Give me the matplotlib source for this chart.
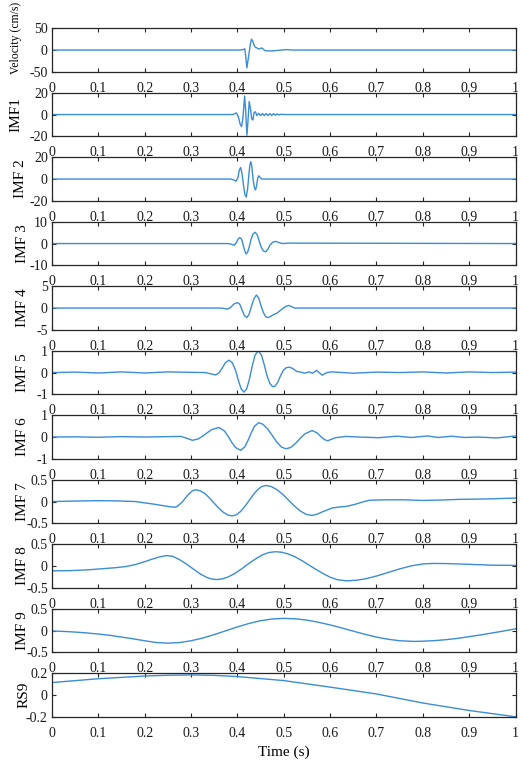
import matplotlib
matplotlib.use('Agg')
import matplotlib.pyplot as plt

plt.rcParams['font.family'] = ['Liberation Serif', 'DejaVu Serif']
plt.rcParams['axes.unicode_minus'] = False

# ---------------- data ----------------
t_vel = [0, 0.405, 0.412, 0.416, 0.4185, 0.4205, 0.4245, 0.428, 0.4305, 0.433, 0.436, 0.439,
         0.442, 0.445, 0.449, 0.452, 0.455, 0.459, 0.465, 0.475, 0.485, 0.495, 0.505, 0.52, 1.0]
vel = [0, 0, 1, 3, -20, -41, -12, 14, 25, 21, 11, 6, 5, 3, 3, 5, 3, -1, -2, -2, -1, 0, 1, 0, 0]

t_imf1 = [0, 0.39, 0.398, 0.402, 0.406, 0.409, 0.412, 0.4155, 0.4175, 0.4205, 0.4225, 0.4255,
          0.428, 0.431, 0.4335, 0.436, 0.439, 0.442, 0.446, 0.450, 0.454, 0.458, 0.462, 0.466,
          0.470, 0.474, 0.478, 0.482, 0.486, 0.490, 0.494, 0.50, 1.0]
imf1 = [0, 0, 1.5, -2, -9, -11, -3, 17, 6, -19, -8, 12, 6, -4, -5, 2, 2.5, -1, 1.2, -1, 1,
        -1, 1, -0.9, 0.9, -0.8, 0.8, -0.6, 0.6, -0.4, 0.3, 0, 0]

t_imf2 = [0, 0.385, 0.392, 0.397, 0.401, 0.404, 0.407, 0.410, 0.413, 0.416, 0.419, 0.422,
          0.425, 0.427, 0.429, 0.431, 0.434, 0.437, 0.439, 0.441, 0.444, 0.446, 0.449, 0.453, 1.0]
imf2 = [0, 0, -0.8, -2, 1, 8, 10.6, 5, -5, -14, -16.6, -9, 5, 13, 16, 12, -1, -8.5, -10, -7,
        1, 3, 1.5, 0, 0]

t_imf3 = [0, 0.380, 0.387, 0.393, 0.398, 0.402, 0.405, 0.409, 0.412, 0.416, 0.419, 0.422,
          0.425, 0.429, 0.433, 0.438, 0.443, 0.447, 0.451, 0.456, 0.461, 0.466, 0.470, 0.476,
          0.483, 0.490, 0.497, 0.51, 1.0]
imf3 = [0, 0, -0.3, -0.8, 0.5, 2.2, 2.8, 2.0, -0.3, -3.5, -4.8, -4.0, -2.0, 1.5, 4.2, 5.2,
        4.0, 1.2, -1.5, -3.4, -3.8, -2.5, -0.8, 0.6, 1.0, 0.4, 0, 0.2, 0]

t_imf4 = [0, 0.365, 0.372, 0.378, 0.385, 0.392, 0.400, 0.405, 0.410, 0.415, 0.420, 0.425,
          0.430, 0.436, 0.441, 0.446, 0.451, 0.456, 0.461, 0.466, 0.472, 0.478, 0.485, 0.492,
          0.499, 0.505, 0.511, 0.517, 0.524, 1.0]
imf4 = [0, 0, -0.1, -0.25, 0.1, 0.9, 1.25, 0.9, -0.4, -1.7, -2.2, -1.5, 0.3, 2.2, 3.0, 2.3,
        0.5, -1.0, -2.0, -2.2, -1.9, -1.5, -1.2, -0.6, 0.0, 0.4, 0.6, 0.3, 0, 0]

t_imf5 = [0, 0.05, 0.10, 0.15, 0.20, 0.25, 0.30, 0.33, 0.343, 0.353, 0.360, 0.367, 0.374,
          0.382, 0.389, 0.396, 0.402, 0.408, 0.414, 0.420, 0.426, 0.432, 0.438, 0.445, 0.452,
          0.458, 0.464, 0.470, 0.476, 0.481, 0.487, 0.493, 0.499, 0.505, 0.512, 0.520, 0.528,
          0.535, 0.545, 0.555, 0.562, 0.571, 0.583, 0.593, 0.604, 0.65, 0.70, 0.75, 0.80,
          0.85, 0.90, 0.95, 1.0]
imf5 = [0, 0.02, -0.02, 0.03, -0.02, 0.03, 0.01, 0, -0.06, -0.11, -0.02, 0.2, 0.45, 0.57,
        0.45, 0.1, -0.35, -0.75, -0.9, -0.75, -0.3, 0.3, 0.8, 1.0, 0.8, 0.35, -0.15, -0.5,
        -0.65, -0.63, -0.45, -0.15, 0.1, 0.22, 0.25, 0.18, 0.05, 0.03, -0.03, 0.03, -0.03,
        0.1, -0.12, 0, 0.03, -0.03, 0.02, 0, 0.03, -0.02, 0.03, 0, 0.02]

t_imf6 = [0, 0.05, 0.10, 0.15, 0.20, 0.25, 0.278, 0.290, 0.303, 0.315, 0.325, 0.335, 0.345,
          0.360, 0.372, 0.380, 0.388, 0.396, 0.407, 0.416, 0.423, 0.430, 0.437, 0.446, 0.455,
          0.465, 0.475, 0.485, 0.495, 0.505, 0.515, 0.525, 0.535, 0.545, 0.561, 0.572, 0.580,
          0.588, 0.595, 0.603, 0.612, 0.634, 0.662, 0.705, 0.745, 0.775, 0.81, 0.833, 0.862,
          0.89, 0.918, 0.96, 1.0]
imf6 = [0, 0.01, -0.01, 0.02, 0, 0.02, 0.03, -0.05, -0.15, -0.09, 0.04, 0.2, 0.345, 0.44,
        0.28, 0.035, -0.25, -0.48, -0.61, -0.45, -0.15, 0.2, 0.5, 0.66, 0.59, 0.38, 0.08,
        -0.23, -0.46, -0.54, -0.48, -0.30, -0.07, 0.14, 0.30, 0.19, 0.02, -0.12, -0.17,
        -0.10, -0.03, 0.03, 0, -0.03, 0.04, -0.02, 0.05, -0.02, 0.04, -0.02, 0, -0.04, 0.05]

t_imf7 = [0, 0.05, 0.10, 0.14, 0.18, 0.20, 0.22, 0.24, 0.255, 0.264, 0.270, 0.281, 0.293,
          0.303, 0.31, 0.32, 0.33, 0.34, 0.35, 0.36, 0.37, 0.38, 0.389, 0.398, 0.407, 0.416,
          0.425, 0.434, 0.443, 0.452, 0.461, 0.473, 0.486, 0.498, 0.511, 0.523, 0.536, 0.548,
          0.561, 0.572, 0.585, 0.604, 0.62, 0.636, 0.655, 0.67, 0.685, 0.72, 0.76, 0.80, 0.84,
          0.878, 0.94, 1.0]
imf7 = [0, 0.012, 0.02, 0.015, 0, -0.03, -0.06, -0.095, -0.12, -0.13, -0.114, -0.01, 0.15,
        0.248, 0.27, 0.246, 0.183, 0.08, -0.039, -0.153, -0.25, -0.312, -0.33, -0.302, -0.227,
        -0.113, 0.02, 0.153, 0.267, 0.342, 0.37, 0.346, 0.269, 0.163, 0.025, -0.103, -0.219,
        -0.292, -0.32, -0.29, -0.23, -0.15, -0.125, -0.11, -0.06, -0.01, 0.03, 0.04, 0.04,
        0.025, 0.035, 0.05, 0.06, 0.08]

t_imf8 = [0, 0.04, 0.08, 0.11, 0.14, 0.16, 0.18, 0.20, 0.215, 0.23, 0.246, 0.26, 0.275,
          0.29, 0.305, 0.32, 0.335, 0.345, 0.355, 0.368, 0.38, 0.395, 0.41, 0.425, 0.44,
          0.455, 0.468, 0.482, 0.496, 0.51, 0.525, 0.54, 0.555, 0.57, 0.585, 0.60, 0.615,
          0.635, 0.655, 0.675, 0.70, 0.725, 0.75, 0.775, 0.80, 0.82, 0.85, 0.90, 0.95, 1.0]
imf8 = [-0.11, -0.105, -0.085, -0.06, -0.035, -0.01, 0.035, 0.1, 0.155, 0.205, 0.24, 0.225,
        0.149, 0.047, -0.07, -0.183, -0.266, -0.299, -0.31, -0.294, -0.25, -0.166, -0.058,
        0.061, 0.17, 0.263, 0.311, 0.33, 0.317, 0.276, 0.209, 0.12, 0.018, -0.08, -0.173,
        -0.256, -0.313, -0.34, -0.328, -0.296, -0.23, -0.148, -0.066, 0.004, 0.048, 0.06,
        0.057, 0.04, 0.02, 0.015]

t_imf9 = [0, 0.025, 0.05, 0.075, 0.10, 0.125, 0.15, 0.175, 0.20, 0.225, 0.25, 0.275, 0.30,
          0.325, 0.35, 0.375, 0.40, 0.425, 0.45, 0.475, 0.50, 0.525, 0.55, 0.575, 0.60,
          0.625, 0.65, 0.675, 0.70, 0.725, 0.75, 0.78, 0.80, 0.825, 0.85, 0.875, 0.90, 0.925,
          0.95, 0.975, 1.0]
imf9 = [-0.01, -0.02, -0.035, -0.055, -0.08, -0.11, -0.15, -0.19, -0.235, -0.275, -0.29,
        -0.276, -0.235, -0.173, -0.093, -0.005, 0.083, 0.163, 0.226, 0.266, 0.28, 0.27, 0.24,
        0.19, 0.13, 0.06, -0.014, -0.086, -0.15, -0.2, -0.234, -0.25, -0.245, -0.232, -0.21,
        -0.18, -0.14, -0.1, -0.055, -0.01, 0.04]

t_rs9 = [0, 0.1, 0.2, 0.25, 0.3, 0.35, 0.4, 0.5, 0.6, 0.7, 0.8, 0.9, 1.0]
rs9 = [0.115, 0.15, 0.175, 0.182, 0.185, 0.181, 0.17, 0.133, 0.073, 0.01, -0.073, -0.142, -0.2]

series_t = [t_vel, t_imf1, t_imf2, t_imf3, t_imf4, t_imf5, t_imf6, t_imf7, t_imf8, t_imf9, t_rs9]
series_y = [vel, imf1, imf2, imf3, imf4, imf5, imf6, imf7, imf8, imf9, rs9]
ylabels = ['Velocity (cm/s)', 'IMF1', 'IMF 2', 'IMF 3', 'IMF 4', 'IMF 5', 'IMF 6', 'IMF 7',
           'IMF 8', 'IMF 9', 'RS9']
ylimits = [(-50, 50), (-20, 20), (-20, 20), (-10, 10), (-5, 5), (-1, 1), (-1, 1),
           (-0.5, 0.5), (-0.5, 0.5), (-0.5, 0.5), (-0.2, 0.2)]
yticklabels = [['-50', '0', '50'], ['-20', '0', '20'], ['-20', '0', '20'], ['-10', '0', '10'],
               ['-5', '0', '5'], ['-1', '0', '1'], ['-1', '0', '1'], ['-0.5', '0', '0.5'],
               ['-0.5', '0', '0.5'], ['-0.5', '0', '0.5'], ['-0.2', '0', '0.2']]
xticks = [0, 0.1, 0.2, 0.3, 0.4, 0.5, 0.6, 0.7, 0.8, 0.9, 1.0]
xticklabels = ['0', '0.1', '0.2', '0.3', '0.4', '0.5', '0.6', '0.7', '0.8', '0.9', '1']
xlabel = 'Time (s)'

# ---------------- layout ----------------
W, H = 520, 760
fig = plt.figure(figsize=(W / 100, H / 100), dpi=100)
ax_left_px, ax_w_px = 52, 463.5
top0, pitch, hpx = 28.3, 64.5, 43.5
label_x_px = [16, 16, 20, 22, 22, 23, 23, 23, 23, 23, 24]
LINE = '#3a8dd6'
DARK = '#262626'

for i in range(len(series_y)):
    top = top0 + i * pitch
    bottom = top + hpx
    ax = fig.add_axes([ax_left_px / W, 1 - bottom / H, ax_w_px / W, hpx / H])
    ax.plot(series_t[i], series_y[i], color=LINE, lw=1.0)
    lo, hi = ylimits[i]
    ax.set_xlim(0, 1)
    ax.set_ylim(lo, hi)
    ax.set_xticks(xticks)
    ax.set_xticklabels(xticklabels)
    ax.set_yticks([lo, 0, hi])
    ax.set_yticklabels(yticklabels[i])
    ax.tick_params(direction='in', top=True, right=True, length=3, width=0.8,
                   color=DARK, labelcolor='#1a1a1a', labelsize=10)
    ax.tick_params(axis='x', pad=7)
    ax.tick_params(axis='y', pad=3)
    for s in ax.spines.values():
        s.set_color(DARK)
        s.set_linewidth(0.9)
    xf = (label_x_px[i] - ax_left_px) / ax_w_px
    if i == 0:
        ax.set_ylabel(ylabels[i], fontsize=8.5, ha='left', va='center', rotation_mode='anchor')
        ax.yaxis.set_label_coords(xf, (bottom - 74.5) / hpx)
    else:
        ax.set_ylabel(ylabels[i], fontsize=11, va='center')
        ax.yaxis.set_label_coords(xf, 0.5)
    if i == len(series_y) - 1:
        ax.set_xlabel(xlabel, fontsize=11, va='center')
        ax.xaxis.set_label_coords(0.5, (bottom - 752) / hpx)

fig.savefig('out.png', dpi=100, facecolor='white')
